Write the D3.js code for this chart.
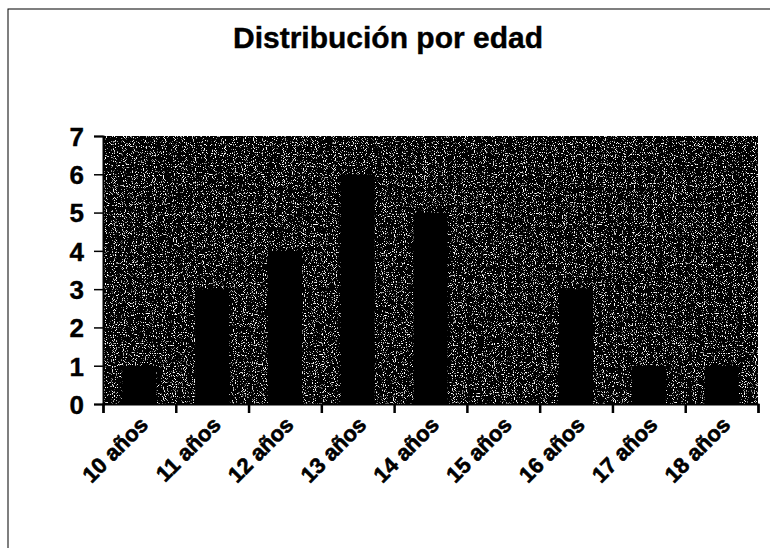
<!DOCTYPE html>
<html>
<head>
<meta charset="utf-8">
<script src="https://cdn.jsdelivr.net/npm/d3@7"></script>
<style>
  body { margin: 0; background: #fff; }
  text { font-family: 'Liberation Sans', Arial, sans-serif; font-weight: bold; }
</style>
</head>
<body>
<script>
const categories = ['10 años', '11 años', '12 años', '13 años', '14 años', '15 años', '16 años', '17 años', '18 años']
const counts = [1, 3, 4, 6, 5, 0, 3, 1, 1]
const yTicks = [0, 1, 2, 3, 4, 5, 6, 7]
const title = 'Distribución por edad'

const width = 770
const height = 548
const plot = { left: 103, right: 758, top: 136, bottom: 404 }

const svg = d3.select('body').append('svg')
  .attr('width', width)
  .attr('height', height)
  .attr('viewBox', [0, 0, width, height])

// speckled grey plot background, like the scanned original
const filter = svg.append('defs').append('filter')
  .attr('id', 'speckle')
  .attr('x', 0).attr('y', 0).attr('width', 1).attr('height', 1)
filter.append('feTurbulence')
  .attr('type', 'fractalNoise')
  .attr('baseFrequency', 0.9)
  .attr('numOctaves', 1)
  .attr('seed', 4)
  .attr('result', 'noise')
filter.append('feColorMatrix')
  .attr('in', 'noise')
  .attr('type', 'matrix')
  .attr('values', '0 0 0 0 1  0 0 0 0 1  0 0 0 0 1  9 0 0 0 -5.3')
  .attr('result', 'dots')
filter.append('feComposite')
  .attr('in', 'dots')
  .attr('in2', 'SourceGraphic')
  .attr('operator', 'over')

// chart frame
svg.append('rect')
  .attr('x', 8)
  .attr('y', 9)
  .attr('width', 900)
  .attr('height', 700)
  .attr('fill', 'none')
  .attr('stroke', '#000')
  .attr('stroke-width', 1)

svg.append('text')
  .attr('x', 388)
  .attr('y', 48)
  .attr('text-anchor', 'middle')
  .attr('font-size', 30)
  .attr('fill', '#000')
  .attr('stroke', '#000')
  .attr('stroke-width', 0.4)
  .text(title)

const x = d3.scaleBand()
  .domain(categories)
  .range([plot.left, plot.right])
  .paddingInner(0.53)
  .paddingOuter(0.265)

const y = d3.scaleLinear()
  .domain([0, 7])
  .range([plot.bottom, plot.top])

const edges = d3.scaleLinear()
  .domain([0, categories.length])
  .range([plot.left, plot.right])

svg.append('rect')
  .attr('x', plot.left)
  .attr('y', plot.top)
  .attr('width', plot.right - plot.left)
  .attr('height', plot.bottom - plot.top)
  .attr('fill', '#000')
  .attr('filter', 'url(#speckle)')

svg.append('g')
  .selectAll('rect')
  .data(counts)
  .join('rect')
    .attr('x', (d, i) => x(categories[i]))
    .attr('y', d => y(d))
    .attr('width', x.bandwidth())
    .attr('height', d => y(0) - y(d))
    .attr('fill', '#000')

// y axis
const yAxis = svg.append('g')
  .attr('transform', `translate(${plot.left},0)`)
  .call(d3.axisLeft(y).tickValues(yTicks).tickFormat(d3.format('d')).tickSize(9).tickPadding(10))
yAxis.select('.domain').attr('stroke-width', 2)
yAxis.selectAll('.tick line').attr('stroke-width', 1.5)
yAxis.selectAll('text')
  .attr('font-size', 26)
  .attr('fill', '#000')
  .attr('stroke', '#000')
  .attr('stroke-width', 0.4)
  .attr('dy', '0.36em')

// x axis: ticks on category boundaries
const xAxis = svg.append('g')
  .attr('transform', `translate(0,${plot.bottom})`)
  .call(d3.axisBottom(edges).tickValues(d3.range(categories.length + 1)).tickFormat('').tickSize(9))
xAxis.select('.domain').attr('stroke-width', 2)
xAxis.selectAll('.tick line').attr('stroke-width', 2.5)

svg.append('g')
  .selectAll('text')
  .data(categories)
  .join('text')
    .attr('transform', d => `translate(${x(d) + x.bandwidth() / 2 + 10},${plot.bottom + 22}) rotate(-45)`)
    .attr('text-anchor', 'end')
    .attr('font-size', 22)
    .attr('fill', '#000')
    .attr('stroke', '#000')
    .attr('stroke-width', 0.6)
    .text(d => d)
</script>
</body>
</html>
